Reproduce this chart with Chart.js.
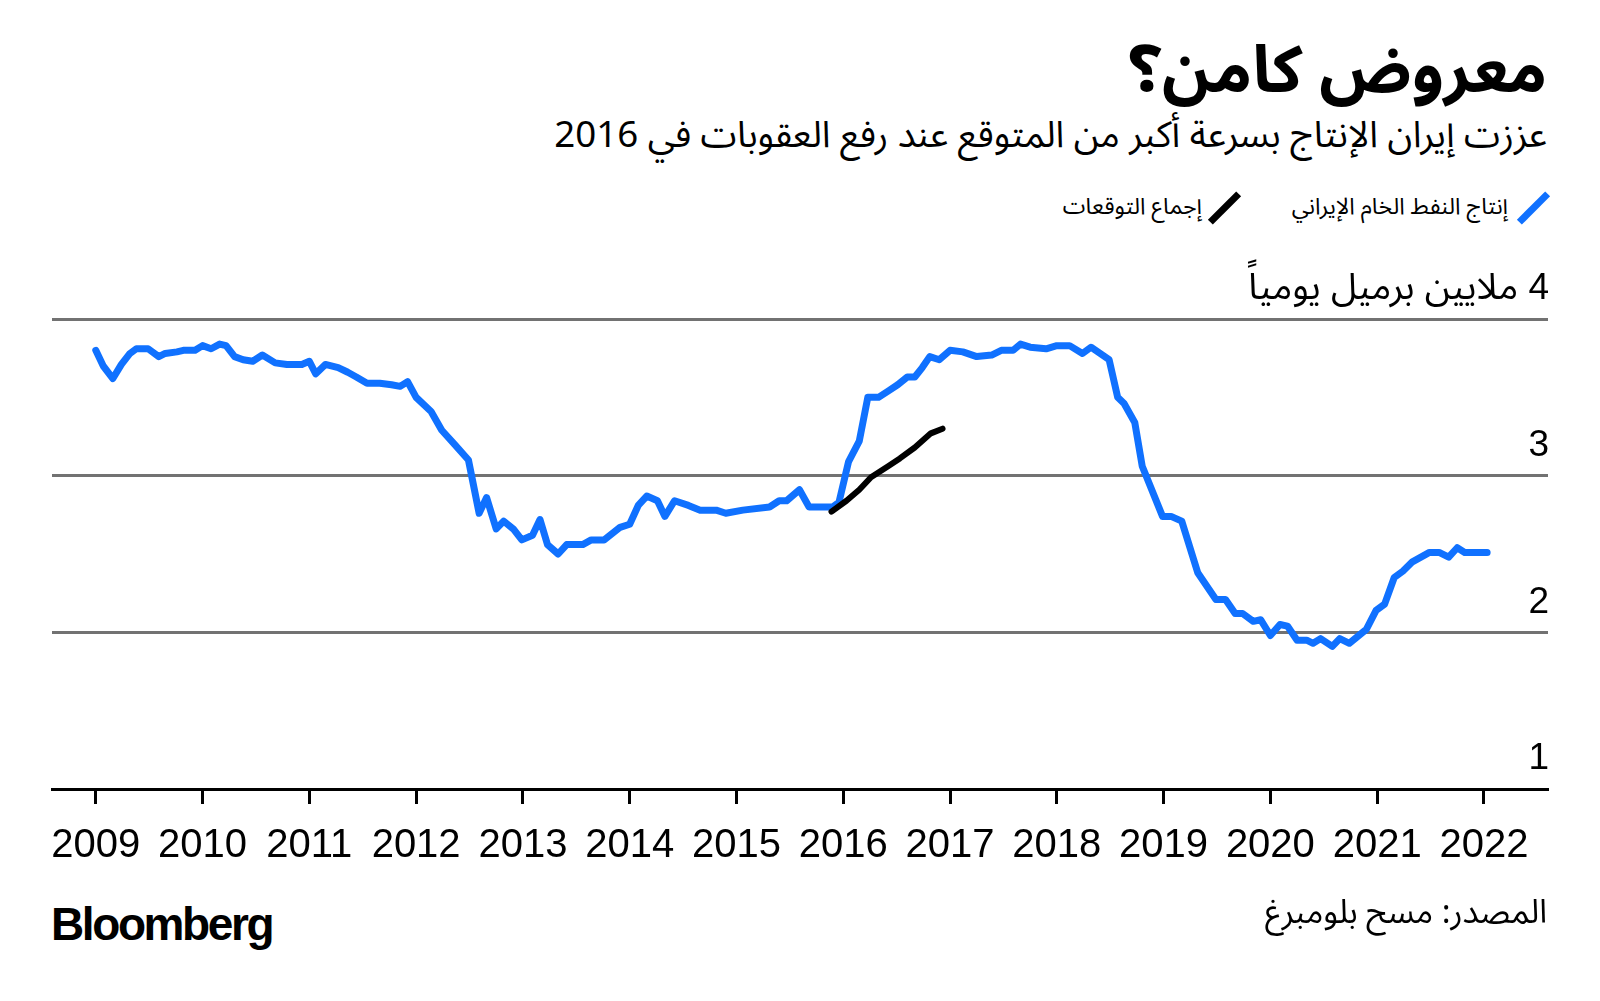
<!DOCTYPE html>
<html lang="ar" dir="rtl">
<head>
<meta charset="utf-8">
<title>معروض كامن؟</title>
<script src="https://cdn.jsdelivr.net/npm/chart.js@4.4.1/dist/chart.umd.min.js"></script>
<style>
  html, body { margin: 0; padding: 0; background: #fff; }
  body { width: 1600px; height: 1001px; position: relative; overflow: hidden;
         font-family: "Noto Sans Arabic", "DejaVu Sans", sans-serif; color: #000; }
  .txt { position: absolute; white-space: nowrap; }
  #title { right: 53px; top: 27px; font-size: 65px; font-weight: 700; line-height: 90px; }
  #subtitle { right: 53px; top: 112px; font-size: 36.7px; line-height: 48px; }
  .legText { font-size: 23px; line-height: 32px; top: 191px; }
  .slash { position: absolute; top: 188px; width: 7px; height: 40px; transform: rotate(45deg); }
  #source { right: 53px; top: 891px; font-size: 33px; line-height: 44px; }
  #logo { left: 51px; top: 898px; font-family: "Liberation Sans", Arial, sans-serif; font-weight: 700;
          font-size: 46px; line-height: 52px; letter-spacing: -2.4px; direction: ltr; }
  #wrap { position: absolute; left: 0; top: 240px; width: 1600px; height: 640px; }
</style>
</head>
<body>
<div id="title" class="txt">معروض كامن؟</div>
<div id="subtitle" class="txt">عززت إيران الإنتاج بسرعة أكبر من المتوقع عند رفع العقوبات في 2016</div>

<span class="slash" style="left:1530px;background:#1071ff"></span>
<div class="txt legText" style="right:92px">إنتاج النفط الخام الإيراني</div>
<span class="slash" style="left:1221px;background:#000"></span>
<div class="txt legText" style="right:398px">إجماع التوقعات</div>

<div id="wrap"><canvas id="chart" width="1600" height="640"></canvas></div>

<div id="source" class="txt">المصدر: مسح بلومبرغ</div>
<div id="logo" class="txt">Bloomberg</div>

<script>
// Iranian crude output, million barrels a day
const prodYears = [
  2009.00, 2009.07, 2009.16, 2009.24, 2009.32, 2009.38, 2009.49, 2009.59, 2009.65, 2009.76,
  2009.82, 2009.93, 2010.00, 2010.08, 2010.16, 2010.22, 2010.30, 2010.38, 2010.47, 2010.56,
  2010.68, 2010.79, 2010.93, 2011.00, 2011.06, 2011.15, 2011.27, 2011.36, 2011.44, 2011.54,
  2011.66, 2011.77, 2011.85, 2011.92, 2012.00, 2012.14, 2012.24, 2012.36, 2012.49, 2012.59,
  2012.66, 2012.75, 2012.82, 2012.91, 2012.99, 2013.09, 2013.16, 2013.23, 2013.33, 2013.41,
  2013.56, 2013.64, 2013.76, 2013.91, 2014.00, 2014.08, 2014.16, 2014.26, 2014.33, 2014.42,
  2014.55, 2014.66, 2014.81, 2014.90, 2015.06, 2015.31, 2015.40, 2015.47, 2015.59, 2015.68,
  2015.90, 2015.96, 2016.05, 2016.15, 2016.23, 2016.33, 2016.42, 2016.51, 2016.60, 2016.67,
  2016.74, 2016.81, 2016.90, 2017.00, 2017.12, 2017.25, 2017.39, 2017.48, 2017.59, 2017.66,
  2017.75, 2017.90, 2018.00, 2018.12, 2018.24, 2018.32, 2018.49, 2018.57, 2018.63, 2018.73,
  2018.80, 2018.99, 2019.07, 2019.17, 2019.32, 2019.49, 2019.58, 2019.67, 2019.74, 2019.84,
  2019.91, 2020.00, 2020.09, 2020.16, 2020.25, 2020.34, 2020.40, 2020.47, 2020.58, 2020.65,
  2020.74, 2020.90, 2020.99, 2021.07, 2021.16, 2021.24, 2021.33, 2021.49, 2021.58, 2021.67,
  2021.75, 2021.82, 2022.03
];
const prodValues = [
  3.80, 3.70, 3.62, 3.71, 3.78, 3.81, 3.81, 3.76, 3.78, 3.79,
  3.80, 3.80, 3.83, 3.81, 3.84, 3.83, 3.76, 3.74, 3.73, 3.77,
  3.72, 3.71, 3.71, 3.73, 3.65, 3.71, 3.69, 3.66, 3.63, 3.59,
  3.59, 3.58, 3.57, 3.60, 3.50, 3.41, 3.29, 3.20, 3.10, 2.76,
  2.86, 2.66, 2.71, 2.66, 2.59, 2.62, 2.72, 2.56, 2.50, 2.56,
  2.56, 2.59, 2.59, 2.67, 2.69, 2.81, 2.87, 2.84, 2.74, 2.84,
  2.81, 2.78, 2.78, 2.76, 2.78, 2.80, 2.84, 2.84, 2.91, 2.80,
  2.80, 2.83, 3.09, 3.22, 3.50, 3.50, 3.54, 3.58, 3.63, 3.63,
  3.69, 3.76, 3.74, 3.80, 3.79, 3.76, 3.77, 3.80, 3.80, 3.84,
  3.82, 3.81, 3.83, 3.83, 3.78, 3.82, 3.74, 3.50, 3.46, 3.34,
  3.06, 2.74, 2.74, 2.71, 2.38, 2.21, 2.21, 2.12, 2.12, 2.07,
  2.08, 1.98, 2.05, 2.04, 1.95, 1.95, 1.93, 1.96, 1.91, 1.96,
  1.93, 2.02, 2.14, 2.18, 2.35, 2.39, 2.45, 2.51, 2.51, 2.48,
  2.54, 2.51, 2.51
];

// Survey consensus after sanctions were lifted
const consYears = [2015.89, 2016.03, 2016.15, 2016.26, 2016.42, 2016.53, 2016.67, 2016.82, 2016.93];
const consValues = [2.77, 2.84, 2.91, 2.99, 3.06, 3.11, 3.18, 3.27, 3.30];

const yearTicks = [2009, 2010, 2011, 2012, 2013, 2014, 2015, 2016, 2017, 2018, 2019, 2020, 2021, 2022];
const valueTicks = [1, 2, 3, 4];
const unitLabel = '4 ملايين برميل يومياً';

const BLUE = '#1071ff';
const numFont = { family: '"Liberation Sans", Arial, sans-serif', size: 40 };

const toPoints = (xs, ys) => xs.map((x, i) => ({ x, y: ys[i] }));

new Chart(document.getElementById('chart'), {
  type: 'line',
  data: {
    datasets: [
      {
        label: 'إجماع التوقعات',
        data: toPoints(consYears, consValues),
        borderColor: '#000',
        borderWidth: 6,
        order: 0
      },
      {
        label: 'إنتاج النفط الخام الإيراني',
        data: toPoints(prodYears, prodValues),
        borderColor: BLUE,
        borderWidth: 7,
        order: 1
      }
    ]
  },
  options: {
    responsive: false,
    devicePixelRatio: 1,
    animation: false,
    // x-axis box is fixed at 80px below, so the plot runs 319..789 on the page
    layout: { padding: { left: 52, right: 52, top: 79, bottom: 11 } },
    elements: {
      point: { radius: 0 },
      line: { tension: 0, borderCapStyle: 'round', borderJoinStyle: 'round', fill: false }
    },
    plugins: { legend: { display: false }, tooltip: { enabled: false } },
    scales: {
      x: {
        type: 'linear',
        min: 2008.59,
        max: 2022.6,
        afterBuildTicks: s => { s.ticks = yearTicks.map(v => ({ value: v })); },
        afterFit: s => { s.height = 80; },
        grid: { drawOnChartArea: false, drawTicks: true, tickLength: 15, tickWidth: 3, tickColor: '#000' },
        border: { display: true, color: '#000', width: 3 },
        ticks: { padding: 18, color: '#000', font: numFont, maxRotation: 0, autoSkip: false,
                 callback: v => String(v) }
      },
      y: {
        position: 'right',
        min: 1,
        max: 4,
        afterBuildTicks: s => { s.ticks = valueTicks.map(v => ({ value: v })); },
        afterFit: s => { s.width = 0; },
        grid: { drawTicks: false, lineWidth: 3,
                color: c => (c.tick && c.tick.value === 1) ? 'rgba(0,0,0,0)' : '#727272' },
        border: { display: false },
        ticks: { mirror: true, padding: 1, labelOffset: -30, color: '#000',
                 font: { family: '"Liberation Sans", "Noto Sans Arabic", "DejaVu Sans", sans-serif', size: 37 },
                 callback: v => v === 4 ? unitLabel : String(v) }
      }
    }
  }
});
</script>
</body>
</html>
